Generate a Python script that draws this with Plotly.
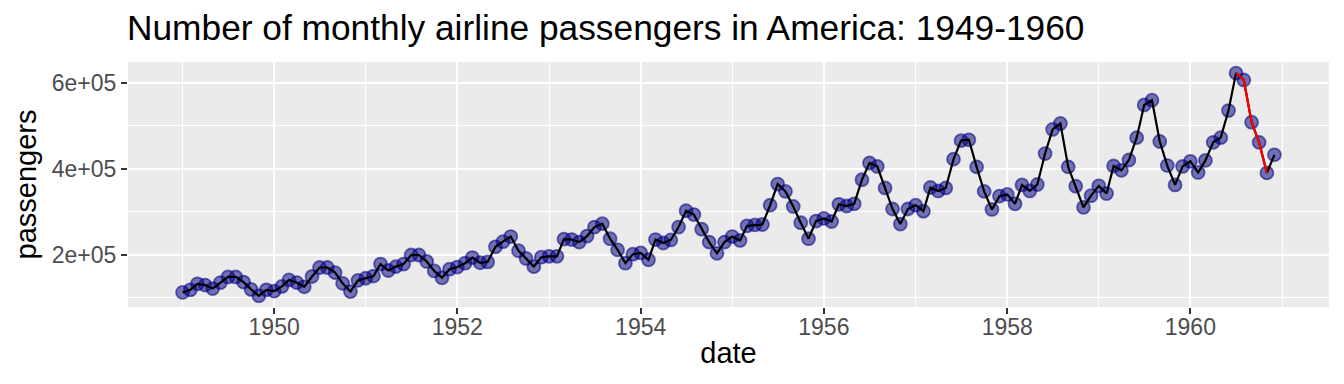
import pandas as pd
import plotly.graph_objects as go

passengers_thousands = [
    112, 118, 132, 129, 121, 135, 148, 148, 136, 119, 104, 118,
    115, 126, 141, 135, 125, 149, 170, 170, 158, 133, 114, 140,
    145, 150, 178, 163, 172, 178, 199, 199, 184, 162, 146, 166,
    171, 180, 193, 181, 183, 218, 230, 242, 209, 191, 172, 194,
    196, 196, 236, 235, 229, 243, 264, 272, 237, 211, 180, 201,
    204, 188, 235, 227, 234, 264, 302, 293, 259, 229, 203, 229,
    242, 233, 267, 269, 270, 315, 364, 347, 312, 274, 237, 278,
    284, 277, 317, 313, 318, 374, 413, 405, 355, 306, 271, 306,
    315, 301, 356, 348, 355, 422, 465, 467, 404, 347, 305, 336,
    340, 318, 362, 348, 363, 435, 491, 505, 404, 359, 310, 337,
    360, 342, 406, 396, 420, 472, 548, 559, 463, 407, 362, 405,
    417, 391, 419, 461, 472, 535, 622, 606, 508, 461, 390, 432,
]
highlight_start = "1960-07-01"
highlight_end = "1960-11-01"
y_tickvals = [200000, 400000, 600000]
y_ticktext = ["2e+05", "4e+05", "6e+05"]

dates = pd.date_range("1949-01-01", periods=len(passengers_thousands), freq="MS")
passengers = [v * 1000 for v in passengers_thousands]
df = pd.DataFrame({"date": dates, "passengers": passengers})
hl = df[(df.date >= highlight_start) & (df.date <= highlight_end)]

span = df.date.max() - df.date.min()
xr = [df.date.min() - span * 0.05, df.date.max() + span * 0.05]
ymin, ymax = min(passengers), max(passengers)
yr = [ymin - (ymax - ymin) * 0.05, ymax + (ymax - ymin) * 0.05]

# page body has an 8px margin, so the figure is offset by 8px
OFF = 8
W, H = 1344 - OFF, 384 - OFF

fig = go.Figure()
fig.add_trace(go.Scatter(x=df.date, y=df.passengers, mode="markers",
                         marker=dict(size=13, color="rgba(0,0,128,0.52)",
                                     line=dict(color="rgba(0,0,128,0.55)", width=1.8)),
                         hoverinfo="skip"))
fig.add_trace(go.Scatter(x=df.date, y=df.passengers, mode="lines",
                         line=dict(color="black", width=2.2), hoverinfo="skip"))
fig.add_trace(go.Scatter(x=hl.date, y=hl.passengers, mode="lines",
                         line=dict(color="red", width=2.2), hoverinfo="skip"))

fig.update_layout(
    width=W, height=H,
    margin=dict(l=128 - OFF, r=15, t=62 - OFF, b=85 - OFF, autoexpand=False),
    paper_bgcolor="white", plot_bgcolor="#EBEBEB",
    showlegend=False,
    font=dict(family="Liberation Sans, Arial, sans-serif", color="black"),
    title=dict(text="Number of monthly airline passengers in America: 1949-1960",
               x=(127 - OFF) / W, xanchor="left", yref="container",
               y=1 - (28 - OFF) / H, yanchor="middle",
               font=dict(size=35.3, color="black"), automargin=False),
)
fig.update_xaxes(
    type="date", range=xr, tickformat="%Y",
    tick0="1950-01-01", dtick="M24",
    showgrid=True, gridcolor="white", gridwidth=2.2,
    minor=dict(dtick="M12", tick0="1949-01-01", showgrid=True, gridcolor="white", gridwidth=1.1),
    ticks="outside", ticklen=6, tickwidth=2, tickcolor="#333333",
    tickfont=dict(size=23, color="#4D4D4D"), ticklabelstandoff=-7,
    title=dict(text="date", font=dict(size=29, color="black"), standoff=4),
    zeroline=False, showline=False, automargin=False,
)
fig.update_yaxes(
    range=yr, tickvals=y_tickvals, ticktext=y_ticktext,
    showgrid=True, gridcolor="white", gridwidth=2.2,
    minor=dict(tickvals=[100000, 300000, 500000], showgrid=True, gridcolor="white", gridwidth=1.1),
    ticks="outside", ticklen=6, tickwidth=2, tickcolor="#333333",
    tickfont=dict(size=23, color="#4D4D4D"),
    title=dict(text="passengers", font=dict(size=29, color="black"), standoff=6),
    zeroline=False, showline=False, automargin=False,
)
fig.write_html("out.html")
